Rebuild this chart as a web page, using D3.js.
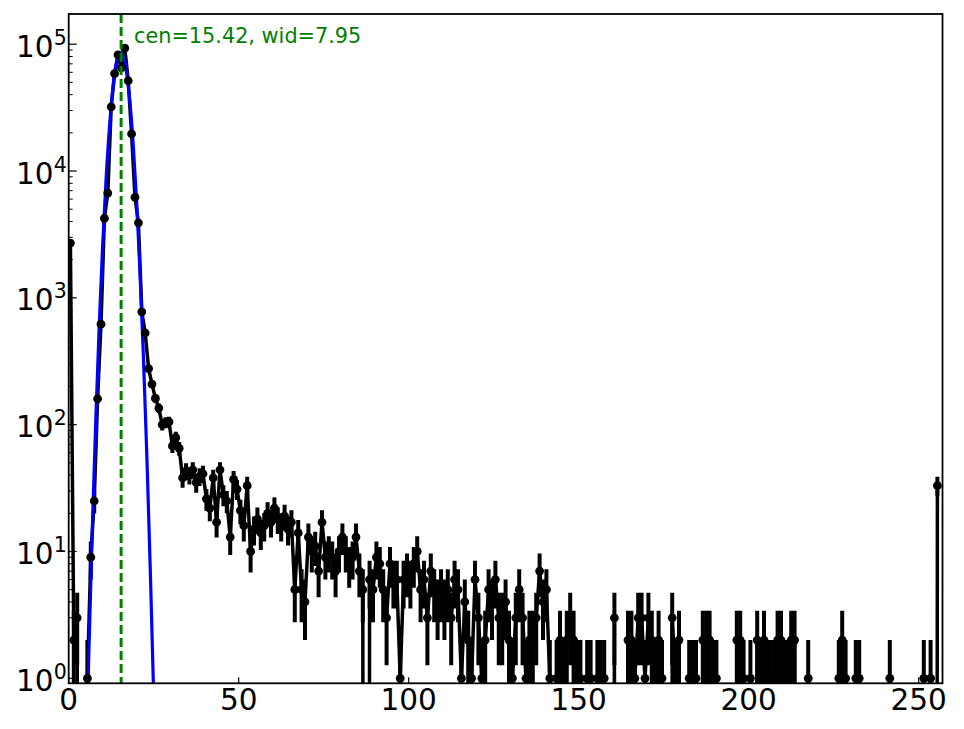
<!DOCTYPE html>
<html>
<head>
<meta charset="utf-8">
<script src="https://cdn.jsdelivr.net/npm/d3@7"></script>
<style>
  body { margin: 0; background: #fff; }
  text { font-family: "DejaVu Sans", sans-serif; }
</style>
</head>
<body>
<div id="chart"></div>
<script>
// histogram counts, one per bin (bin k centred at k + 0.5)
const counts = [
  2700, 2, 3, 0, 0, 1, 9, 25, 160, 620,
  4240, 6700, 32000, 58500, 82500, 65000, 93000, 51500, 19600, 6200,
  3900, 775, 528, 277, 209, 161, 135, 100, 104, 105,
  68, 79, 65, 38, 43, 40, 44, 35, 39, 41,
  26, 22, 38, 17, 44, 28, 25, 13, 37, 31,
  21, 16, 33, 10, 15, 18, 14, 16, 20, 17,
  22, 18, 16, 19, 15, 17, 5, 14, 5, 4,
  13, 10, 11, 7, 17, 9, 10, 9, 7, 10,
  13, 10, 8, 9, 13, 7, 5, 0, 6, 5,
  9, 8, 5, 3, 8, 6, 6, 1, 6, 7,
  6, 8, 10, 5, 6, 3, 7, 5, 4, 5,
  4, 5, 3, 6, 5, 1, 4, 2, 1, 6,
  3, 1, 2, 5, 4, 6, 3, 3, 4, 2,
  1, 3, 5, 3, 1, 2, 2, 3, 7, 4,
  5, 1, 0, 1, 2, 1, 2, 3, 2, 1,
  1, 0, 1, 1, 0, 1, 1, 1, 0, 0,
  3, 0, 0, 0, 2, 2, 1, 3, 3, 1,
  3, 2, 1, 2, 1, 0, 0, 3, 1, 2,
  0, 0, 1, 1, 1, 0, 2, 2, 2, 1,
  1, 0, 0, 0, 0, 0, 2, 2, 1, 0,
  1, 0, 2, 1, 2, 1, 1, 1, 2, 2,
  1, 1, 2, 2, 0, 0, 0, 1, 0, 0,
  0, 0, 0, 0, 0, 0, 1, 2, 1, 0,
  0, 1, 1, 0, 0, 0, 0, 0, 0, 0,
  0, 1, 0, 0, 0, 0, 0, 0, 0, 0,
  0, 1, 0, 1, 0, 33
];

// gaussian fit curve
const fitX = [5, 6, 7, 8, 9, 10, 11, 12, 13, 14, 15, 16, 17, 18, 19, 20, 21, 22, 23, 24, 25, 26];
const fitY = [0.16, 1.9, 17, 115, 630, 2630, 8700, 22400, 45100, 70700, 86100,
              81800, 60700, 35200, 15800, 5600, 1540, 330, 55, 7.1, 0.72, 0.057];

const fitCen = 15.42;
const fitLabel = "cen=15.42, wid=7.95";

const xTicks = [0, 50, 100, 150, 200, 250];
const yTickExp = [0, 1, 2, 3, 4, 5];

const widthChart = 964, heigthChart = 729;
const mLeft = 68.7, mRight = 942.5, mTop = 14, mBottom = 683.3;

const svg = d3.select("#chart")
  .append("svg")
  .attr("width", widthChart)
  .attr("height", heigthChart);

const x = d3.scaleLinear().domain([0, 257]).range([mLeft, mRight]);
const y = d3.scaleLog().domain([0.913, 173000]).range([mBottom, mTop]);

// values <= 0 are pushed far below the axis, like a clipped log plot
function yPos(v) {
  return v > 0 ? y(v) : mBottom + 3000;
}

svg.append("clipPath")
  .attr("id", "plotClip")
  .append("rect")
  .attr("x", mLeft)
  .attr("y", mTop)
  .attr("width", mRight - mLeft)
  .attr("height", mBottom - mTop);

const plot = svg.append("g").attr("clip-path", "url(#plotClip)");

const bins = counts.map((c, i) => ({ x: i + 0.5, n: c, e: Math.sqrt(c) }));

// data line
plot.append("path")
  .datum(bins)
  .attr("fill", "none")
  .attr("stroke", "#000")
  .attr("stroke-width", 3.5)
  .attr("stroke-linejoin", "round")
  .attr("d", d3.line()
    .x(d => x(d.x))
    .y(d => yPos(d.n)));

// error bars
plot.selectAll(".err")
  .data(bins.filter(d => d.n > 0))
  .enter().append("line")
  .attr("class", "err")
  .attr("x1", d => x(d.x))
  .attr("x2", d => x(d.x))
  .attr("y1", d => yPos(d.n - d.e))
  .attr("y2", d => yPos(d.n + d.e))
  .attr("stroke", "#000")
  .attr("stroke-width", 4);

// fit curve
const fitPts = fitX.map((v, i) => [v, fitY[i]]);
plot.append("path")
  .datum(fitPts)
  .attr("fill", "none")
  .attr("stroke", "#0000ff")
  .attr("stroke-width", 3.2)
  .attr("d", d3.line()
    .x(d => x(d[0]))
    .y(d => y(d[1]))
    .curve(d3.curveCatmullRom));

// markers
plot.selectAll(".pt")
  .data(bins.filter(d => d.n > 0))
  .enter().append("circle")
  .attr("class", "pt")
  .attr("cx", d => x(d.x))
  .attr("cy", d => y(d.n))
  .attr("r", 4.4)
  .attr("fill", "#000");

// centre line
plot.append("line")
  .attr("x1", x(fitCen))
  .attr("x2", x(fitCen))
  .attr("y1", mTop)
  .attr("y2", mBottom)
  .attr("stroke", "#008000")
  .attr("stroke-width", 3)
  .attr("stroke-dasharray", "9,4");

svg.append("text")
  .attr("x", 134)
  .attr("y", 43)
  .attr("fill", "#008000")
  .attr("font-size", 20.8)
  .text(fitLabel);

// frame
svg.append("rect")
  .attr("x", mLeft)
  .attr("y", mTop)
  .attr("width", mRight - mLeft)
  .attr("height", mBottom - mTop)
  .attr("fill", "none")
  .attr("stroke", "#000")
  .attr("stroke-width", 1.8);

// x ticks (inside)
const gx = svg.append("g");
gx.selectAll("line")
  .data(xTicks)
  .enter().append("line")
  .attr("x1", d => x(d))
  .attr("x2", d => x(d))
  .attr("y1", mBottom)
  .attr("y2", mBottom - 6)
  .attr("stroke", "#000")
  .attr("stroke-width", 1.2);
gx.selectAll("text")
  .data(xTicks)
  .enter().append("text")
  .attr("x", d => x(d))
  .attr("y", mBottom + 27)
  .attr("text-anchor", "middle")
  .attr("font-size", 29.5)
  .attr("fill", "#000")
  .text(d => d);

// y ticks (log, inside)
const majors = yTickExp.map(e => Math.pow(10, e));
const minors = [];
for (let e = -1; e <= 5; e++) {
  for (let m = 2; m <= 9; m++) {
    const v = m * Math.pow(10, e);
    if (v > y.domain()[0] && v < y.domain()[1]) minors.push(v);
  }
}
const gy = svg.append("g");
gy.selectAll(".maj")
  .data(majors)
  .enter().append("line")
  .attr("class", "maj")
  .attr("x1", mLeft)
  .attr("x2", mLeft + 8)
  .attr("y1", d => y(d))
  .attr("y2", d => y(d))
  .attr("stroke", "#000")
  .attr("stroke-width", 1.2);
gy.selectAll(".min")
  .data(minors)
  .enter().append("line")
  .attr("class", "min")
  .attr("x1", mLeft)
  .attr("x2", mLeft + 4)
  .attr("y1", d => y(d))
  .attr("y2", d => y(d))
  .attr("stroke", "#000")
  .attr("stroke-width", 1);

const labels = gy.selectAll(".lab")
  .data(yTickExp)
  .enter().append("text")
  .attr("class", "lab")
  .attr("x", mLeft - 2)
  .attr("y", d => y(Math.pow(10, d)) + 12.5)
  .attr("text-anchor", "end")
  .attr("fill", "#000");
labels.append("tspan")
  .attr("font-size", 29.5)
  .text("10");
labels.append("tspan")
  .attr("font-size", 20.5)
  .attr("dy", -12)
  .text(d => d);
</script>
</body>
</html>
